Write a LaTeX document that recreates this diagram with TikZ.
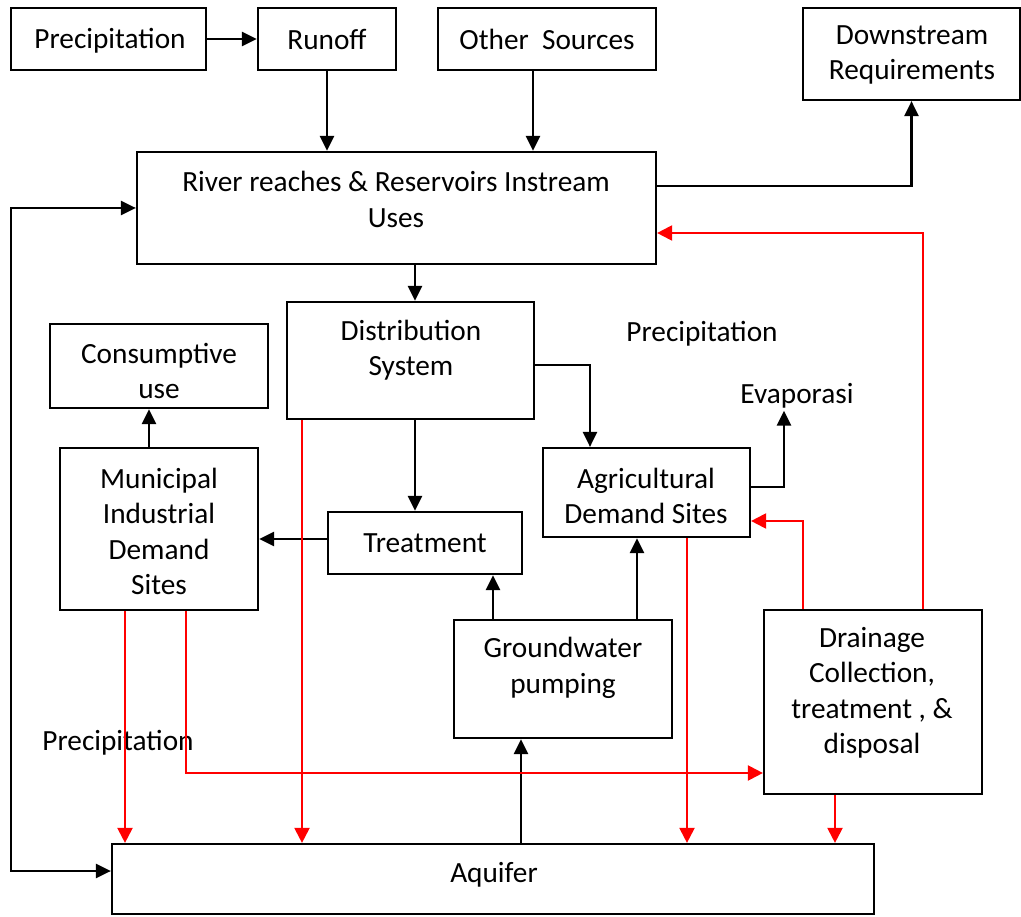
\documentclass[tikz,border=0pt]{standalone}
\usepackage{fontspec}
\setmainfont{Carlito}
\usetikzlibrary{arrows.meta,calc}
\definecolor{flowred}{RGB}{255,0,0}
\begin{document}
\begin{tikzpicture}[x=1pt,y=-1pt,
  box/.style={draw, line width=2.2pt, rectangle, inner sep=0pt},
  txt/.style={inner sep=0pt, align=center, font=\fontsize{29.3pt}{35.5pt}\selectfont},
  arr/.style={line width=2.7pt, -{Triangle[length=15pt,width=14pt]}},
  redarr/.style={draw=flowred, line width=2.2pt, -{Triangle[length=15pt,width=15pt]}, color=flowred},
  both/.style={line width=2.5pt, {Triangle[length=15pt,width=14pt]}-{Triangle[length=15pt,width=14pt]}}]
\useasboundingbox (0,0) rectangle (1021,917);

% boxes
\node[box, minimum width=195pt, minimum height=62pt] (precip) at (108.5,39) {};
\node[box, minimum width=138pt, minimum height=62pt] (runoff) at (327,39) {};
\node[box, minimum width=218pt, minimum height=62pt] (other) at (547,39) {};
\node[box, minimum width=217pt, minimum height=92pt] (down) at (911.5,54) {};
\node[box, minimum width=519pt, minimum height=112pt] (river) at (396.5,208) {};
\node[box, minimum width=247pt, minimum height=117pt] (dist) at (410.5,360.5) {};
\node[box, minimum width=218pt, minimum height=84pt] (cons) at (159,366) {};
\node[box, minimum width=198pt, minimum height=162pt] (muni) at (159,529) {};
\node[box, minimum width=194pt, minimum height=62pt] (treat) at (425,543) {};
\node[box, minimum width=207pt, minimum height=89pt] (agri) at (646.5,492.5) {};
\node[box, minimum width=218pt, minimum height=118pt] (gw) at (563,679) {};
\node[box, minimum width=218pt, minimum height=184pt] (drain) at (873,702) {};
\node[box, minimum width=762pt, minimum height=70pt] (aq) at (493,879) {};

% box texts
\node[txt] (tprecip) at (110,41) {Precipitation};
\node[txt] (trunoff) at (327,39) {Runoff};
\node[txt] (tother) at (547,39) {Other\ \ Sources};
\node[txt] (tdown) at (912,55) {Downstream\\Requirements};
\node[txt] (triver) at (396,199.5) {River reaches \& Reservoirs Instream\\Uses};
\node[txt] (tdist) at (411,350) {Distribution\\System};
\node[txt] (tcons) at (159,371) {Consumptive\\use};
\node[txt] (tmuni) at (159,531.5) {Municipal\\Industrial\\Demand\\Sites};
\node[txt] (ttreat) at (425,543) {Treatment};
\node[txt] (tagri) at (646,496) {Agricultural\\Demand Sites};
\node[txt] (tgw) at (563,668) {Groundwater\\pumping};
\node[txt] (tdrain) at (872,693) {Drainage\\Collection,\\treatment , \&\\disposal};
\node[txt] (taq) at (494,875) {Aquifer};

% free labels
\node[txt] (precipb) at (702,334) {Precipitation};
\node[txt] (evap) at (797,396) {Evaporasi};
\node[txt] (precipc) at (118,743) {Precipitation};

% black connectors
\draw[arr] (precip.east) -- (runoff.west);
\draw[arr] (runoff.south) -- (runoff.south |- river.north);
\draw[arr] ([xshift=-14pt]other.south) -- ([xshift=-14pt]other.south |- river.north);
\draw[arr, line width=2.2pt] ([yshift=22pt]river.east) -| (down.south);
\draw[both] ([yshift=8pt]aq.west) -- ++(-100,0) |- (river.west);
\draw[arr] ([xshift=4.5pt]dist.north |- river.south) -- ([xshift=4.5pt]dist.north);
\draw[arr, line width=2.2pt] ([yshift=-4.5pt]dist.east) -| ([xshift=-56.5pt]agri.north);
\draw[arr] ([xshift=4.5pt]dist.south) -- ([xshift=4.5pt]dist.south |- treat.north);
\draw[arr] ([yshift=4pt]treat.west) -- ([yshift=4pt]treat.west -| muni.east);
\draw[arr] ([xshift=-10pt]muni.north) -- ([xshift=-10pt]muni.north |- cons.south);
\draw[arr] ([yshift=5.5pt]agri.east) -| ([xshift=-13pt,yshift=-2pt]evap.south);
\draw[arr] ([xshift=-70pt]gw.north) -- ([xshift=-70pt]gw.north |- treat.south);
\draw[arr] ([xshift=74pt]gw.north) -- ([xshift=74pt]gw.north |- agri.south);
\draw[arr] ([xshift=-42pt]gw.south |- aq.north) -- ([xshift=-42pt]gw.south);

% red return flows
\draw[redarr] ([xshift=50pt]drain.north) |- ([yshift=-25pt]river.east);
\draw[redarr] ([xshift=-70pt]drain.north) |- ([yshift=-28.5pt]agri.east);
\draw[redarr] ([xshift=-34pt]muni.south) -- ([xshift=-34pt]muni.south |- aq.north);
\draw[redarr] ([xshift=27pt]muni.south) |- ([yshift=-71pt]drain.west);
\draw[redarr] ([xshift=-108.5pt]dist.south) -- ([xshift=-108.5pt]dist.south |- aq.north);
\draw[redarr] ([xshift=40.5pt]agri.south) -- ([xshift=40.5pt]agri.south |- aq.north);
\draw[redarr] ([xshift=-38pt]drain.south) -- ([xshift=-38pt]drain.south |- aq.north);
\end{tikzpicture}
\end{document}
